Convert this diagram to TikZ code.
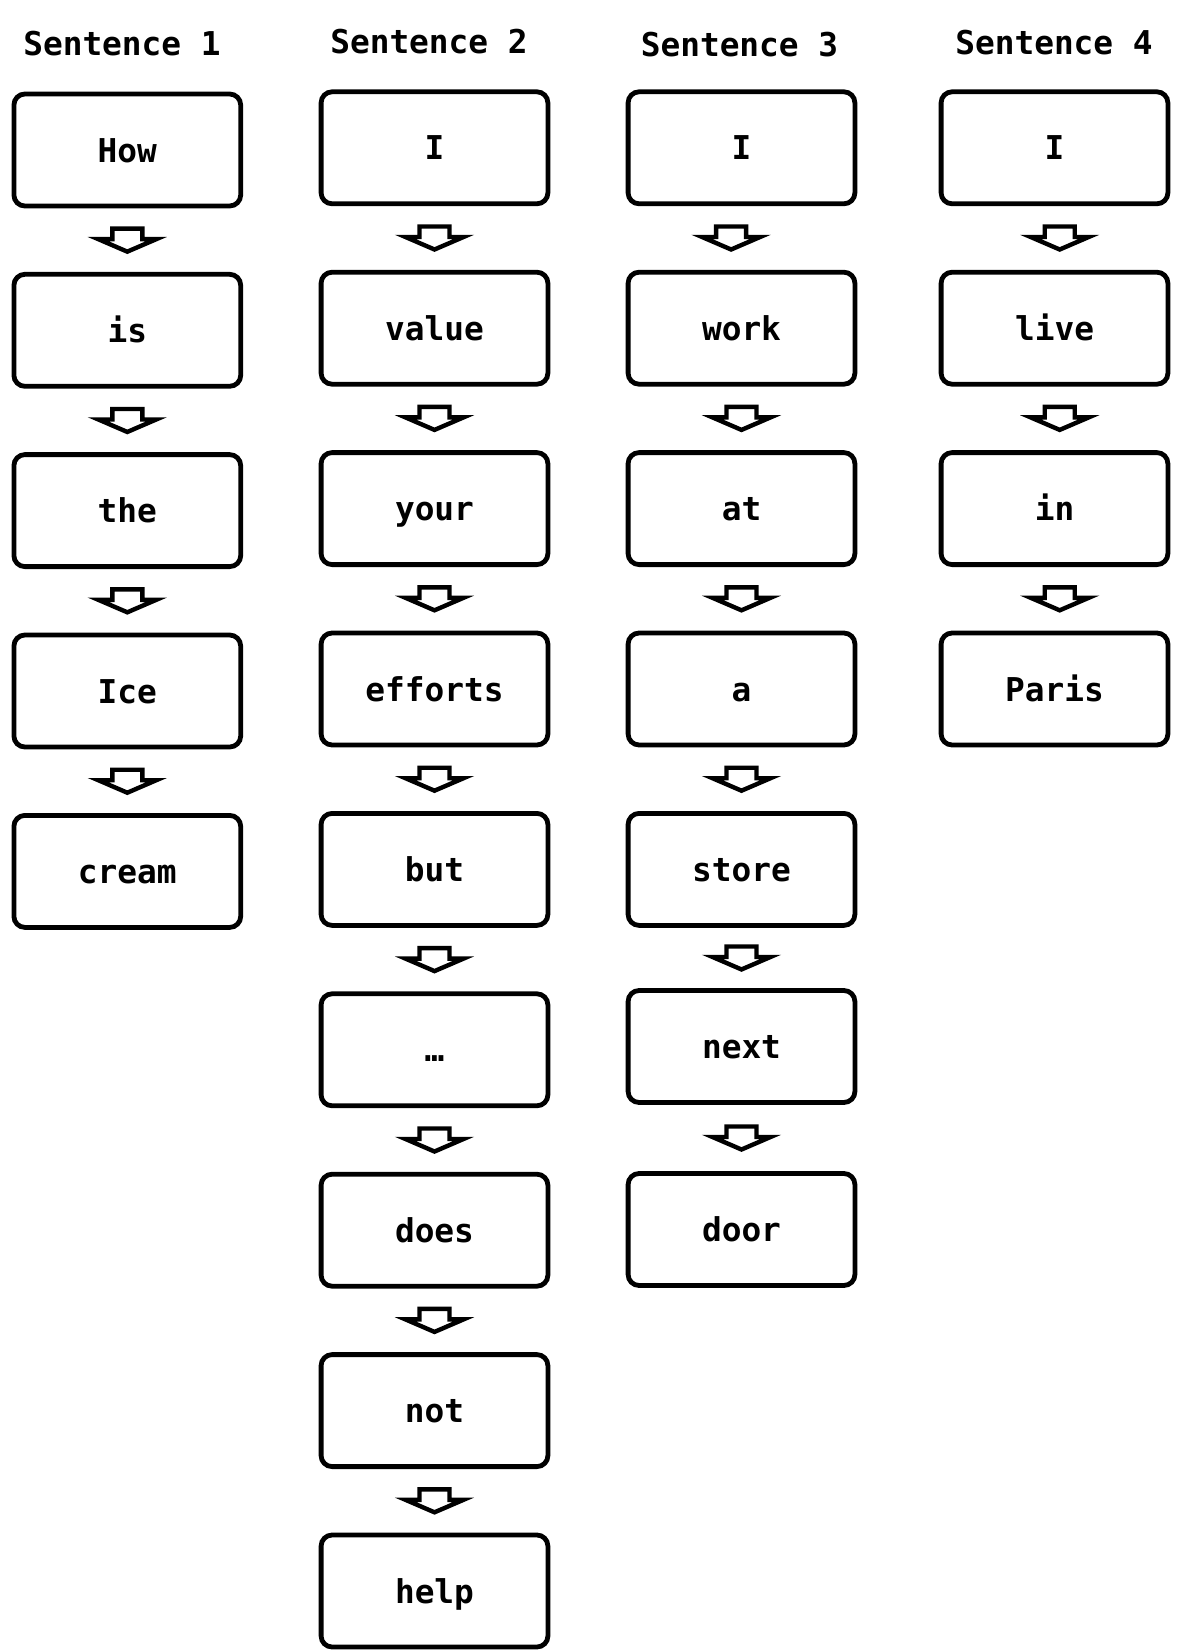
\documentclass[tikz,border=0pt]{standalone}
\usepackage{fontspec}
\setmonofont{DejaVu Sans Mono}
\usetikzlibrary{calc}

\begin{document}
\begin{tikzpicture}[
    x=0.5pt, y=-0.5pt,
    word/.style={draw, line width=2.4pt, rounded corners=5.5pt, minimum width=113.4pt, minimum height=56pt, inner sep=0pt, font=\ttfamily\bfseries\fontsize{16.4}{20}\selectfont, text height=12pt, text depth=0pt},
    title/.style={anchor=base, font=\ttfamily\bfseries\fontsize{16.4}{20}\selectfont},
    downarrow/.pic={\draw[line width=2.2pt] (-15,-11.5) -- (15,-11.5) -- (15,-1) -- (29,-1) -- (0,11.5) -- (-29,-1) -- (-15,-1) -- cycle;}
]
\useasboundingbox (0,0) rectangle (1177,1650);

% Headers
\node[title] (head1) at (122, 55) {Sentence 1};
\node[title] (head2) at (429, 53) {Sentence 2};
\node[title] (head3) at (739.5, 56) {Sentence 3};
\node[title] (head4) at (1054, 54) {Sentence 4};

% Sentence 1
\node[word] (how) at (127.3, 150) {How};
\node[word] (is) at (127.3, 330.3) {is};
\node[word] (the) at (127.3, 510.6) {the};
\node[word] (ice) at (127.3, 691) {Ice};
\node[word] (cream) at (127.3, 871.4) {cream};

% Sentence 2
\node[word] (i2) at (434.5, 147.8) {I};
\node[word] (value) at (434.5, 328.2) {value};
\node[word] (your) at (434.5, 508.6) {your};
\node[word] (efforts) at (434.5, 689) {efforts};
\node[word] (but) at (434.5, 869.4) {but};
\node[word] (dots) at (434.5, 1049.8) {…};
\node[word] (does) at (434.5, 1230.2) {does};
\node[word] (not) at (434.5, 1410.6) {not};
\node[word] (help) at (434.5, 1591) {help};

% Sentence 3
\node[word] (i3) at (741.5, 147.8) {I};
\node[word] (work) at (741.5, 328.2) {work};
\node[word] (at) at (741.5, 508.6) {at};
\node[word] (a) at (741.5, 689) {a};
\node[word] (store) at (741.5, 869.4) {store};
\node[word] (next) at (741.5, 1046.5) {next};
\node[word] (door) at (741.5, 1229.5) {door};

% Sentence 4
\node[word] (i4) at (1054.5, 147.8) {I};
\node[word] (live) at (1054.5, 328.2) {live};
\node[word] (in) at (1054.5, 508.6) {in};
\node[word] (paris) at (1054.5, 689) {Paris};

% Arrows
\pic at ($(how.south)!.5!(is.north)$) {downarrow};
\pic at ($(is.south)!.5!(the.north)$) {downarrow};
\pic at ($(the.south)!.5!(ice.north)$) {downarrow};
\pic at ($(ice.south)!.5!(cream.north)$) {downarrow};

\pic at ($(i2.south)!.5!(value.north)$) {downarrow};
\pic at ($(value.south)!.5!(your.north)$) {downarrow};
\pic at ($(your.south)!.5!(efforts.north)$) {downarrow};
\pic at ($(efforts.south)!.5!(but.north)$) {downarrow};
\pic at ($(but.south)!.5!(dots.north)$) {downarrow};
\pic at ($(dots.south)!.5!(does.north)$) {downarrow};
\pic at ($(does.south)!.5!(not.north)$) {downarrow};
\pic at ($(not.south)!.5!(help.north)$) {downarrow};

\pic[xshift=-5.2pt] at ($(i3.south)!.5!(work.north)$) {downarrow};
\pic at ($(work.south)!.5!(at.north)$) {downarrow};
\pic at ($(at.south)!.5!(a.north)$) {downarrow};
\pic at ($(a.south)!.5!(store.north)$) {downarrow};
\pic at ($(store.south)!.5!(next.north)$) {downarrow};
\pic at ($(next.south)!.5!(door.north)$) {downarrow};

\pic[xshift=2.6pt] at ($(i4.south)!.5!(live.north)$) {downarrow};
\pic[xshift=2.6pt] at ($(live.south)!.5!(in.north)$) {downarrow};
\pic[xshift=2.6pt] at ($(in.south)!.5!(paris.north)$) {downarrow};
\end{tikzpicture}
\end{document}
